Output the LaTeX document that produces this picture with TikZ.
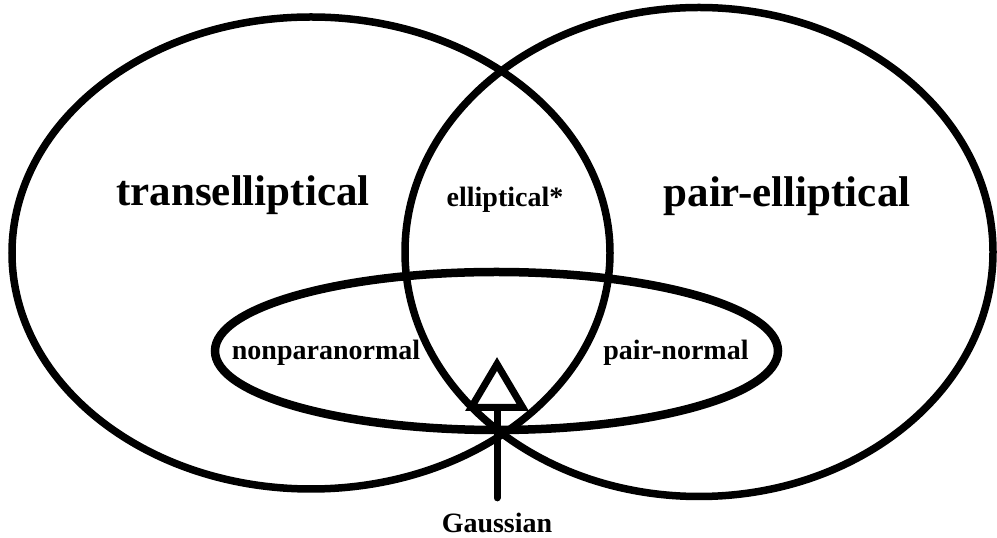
\documentclass[tikz,border=0pt]{standalone}
\usepackage{fontspec}
\setmainfont{Liberation Serif}
\usepackage{tikz}
\usetikzlibrary{arrows.meta,positioning,shapes}
\definecolor{ink}{HTML}{000000}
\tikzset{
  bigset/.style    ={draw=ink, ellipse, line width=7.5pt, inner sep=0pt},
  smallset/.style  ={draw=ink, ellipse, line width=8.5pt, inner sep=0pt},
  biglabel/.style  ={font=\fontsize{43}{50}\selectfont\bfseries,
                     text=ink, anchor=base, inner sep=0pt},
  smalllabel/.style={font=\fontsize{28}{32}\selectfont\bfseries,
                     text=ink, anchor=base, inner sep=0pt},
  gaussarr/.style  ={-{Triangle[length=54pt,width=62pt,fill=white]},
                     line width=7pt, line cap=round, draw=ink},
}

\begin{document}
\begin{tikzpicture}[x=1pt,y=1pt]
    \useasboundingbox (0,0) rectangle (997,538);
    % the three sets
    \node[bigset, minimum width=598pt, minimum height=472pt] (trans) at (311,285) {};
    \node[bigset, minimum width=588pt, minimum height=489pt] (pairell) at (699,286) {};
    \node[smallset, minimum width=563pt, minimum height=158pt] (npn) at (496.5,187) {};
    % labels
    \node[biglabel] (transtxt) at (243,332) {transelliptical};
    \node[biglabel] (pairtxt) at (787,331) {pair-elliptical};
    \node[smalllabel] (elltxt) at (505,331) {elliptical*};
    \node[smalllabel] (npntxt) at (326,178) {nonparanormal};
    \node[smalllabel] (pntxt) at (676,178) {pair-normal};
    \node[smalllabel] (gauss) at (497,5) {Gaussian};
    \coordinate (gtip) at (497,181);
    \draw[gaussarr, shorten <=15.5pt] (gauss.north) -- (gtip);
  \end{tikzpicture}
\end{document}
